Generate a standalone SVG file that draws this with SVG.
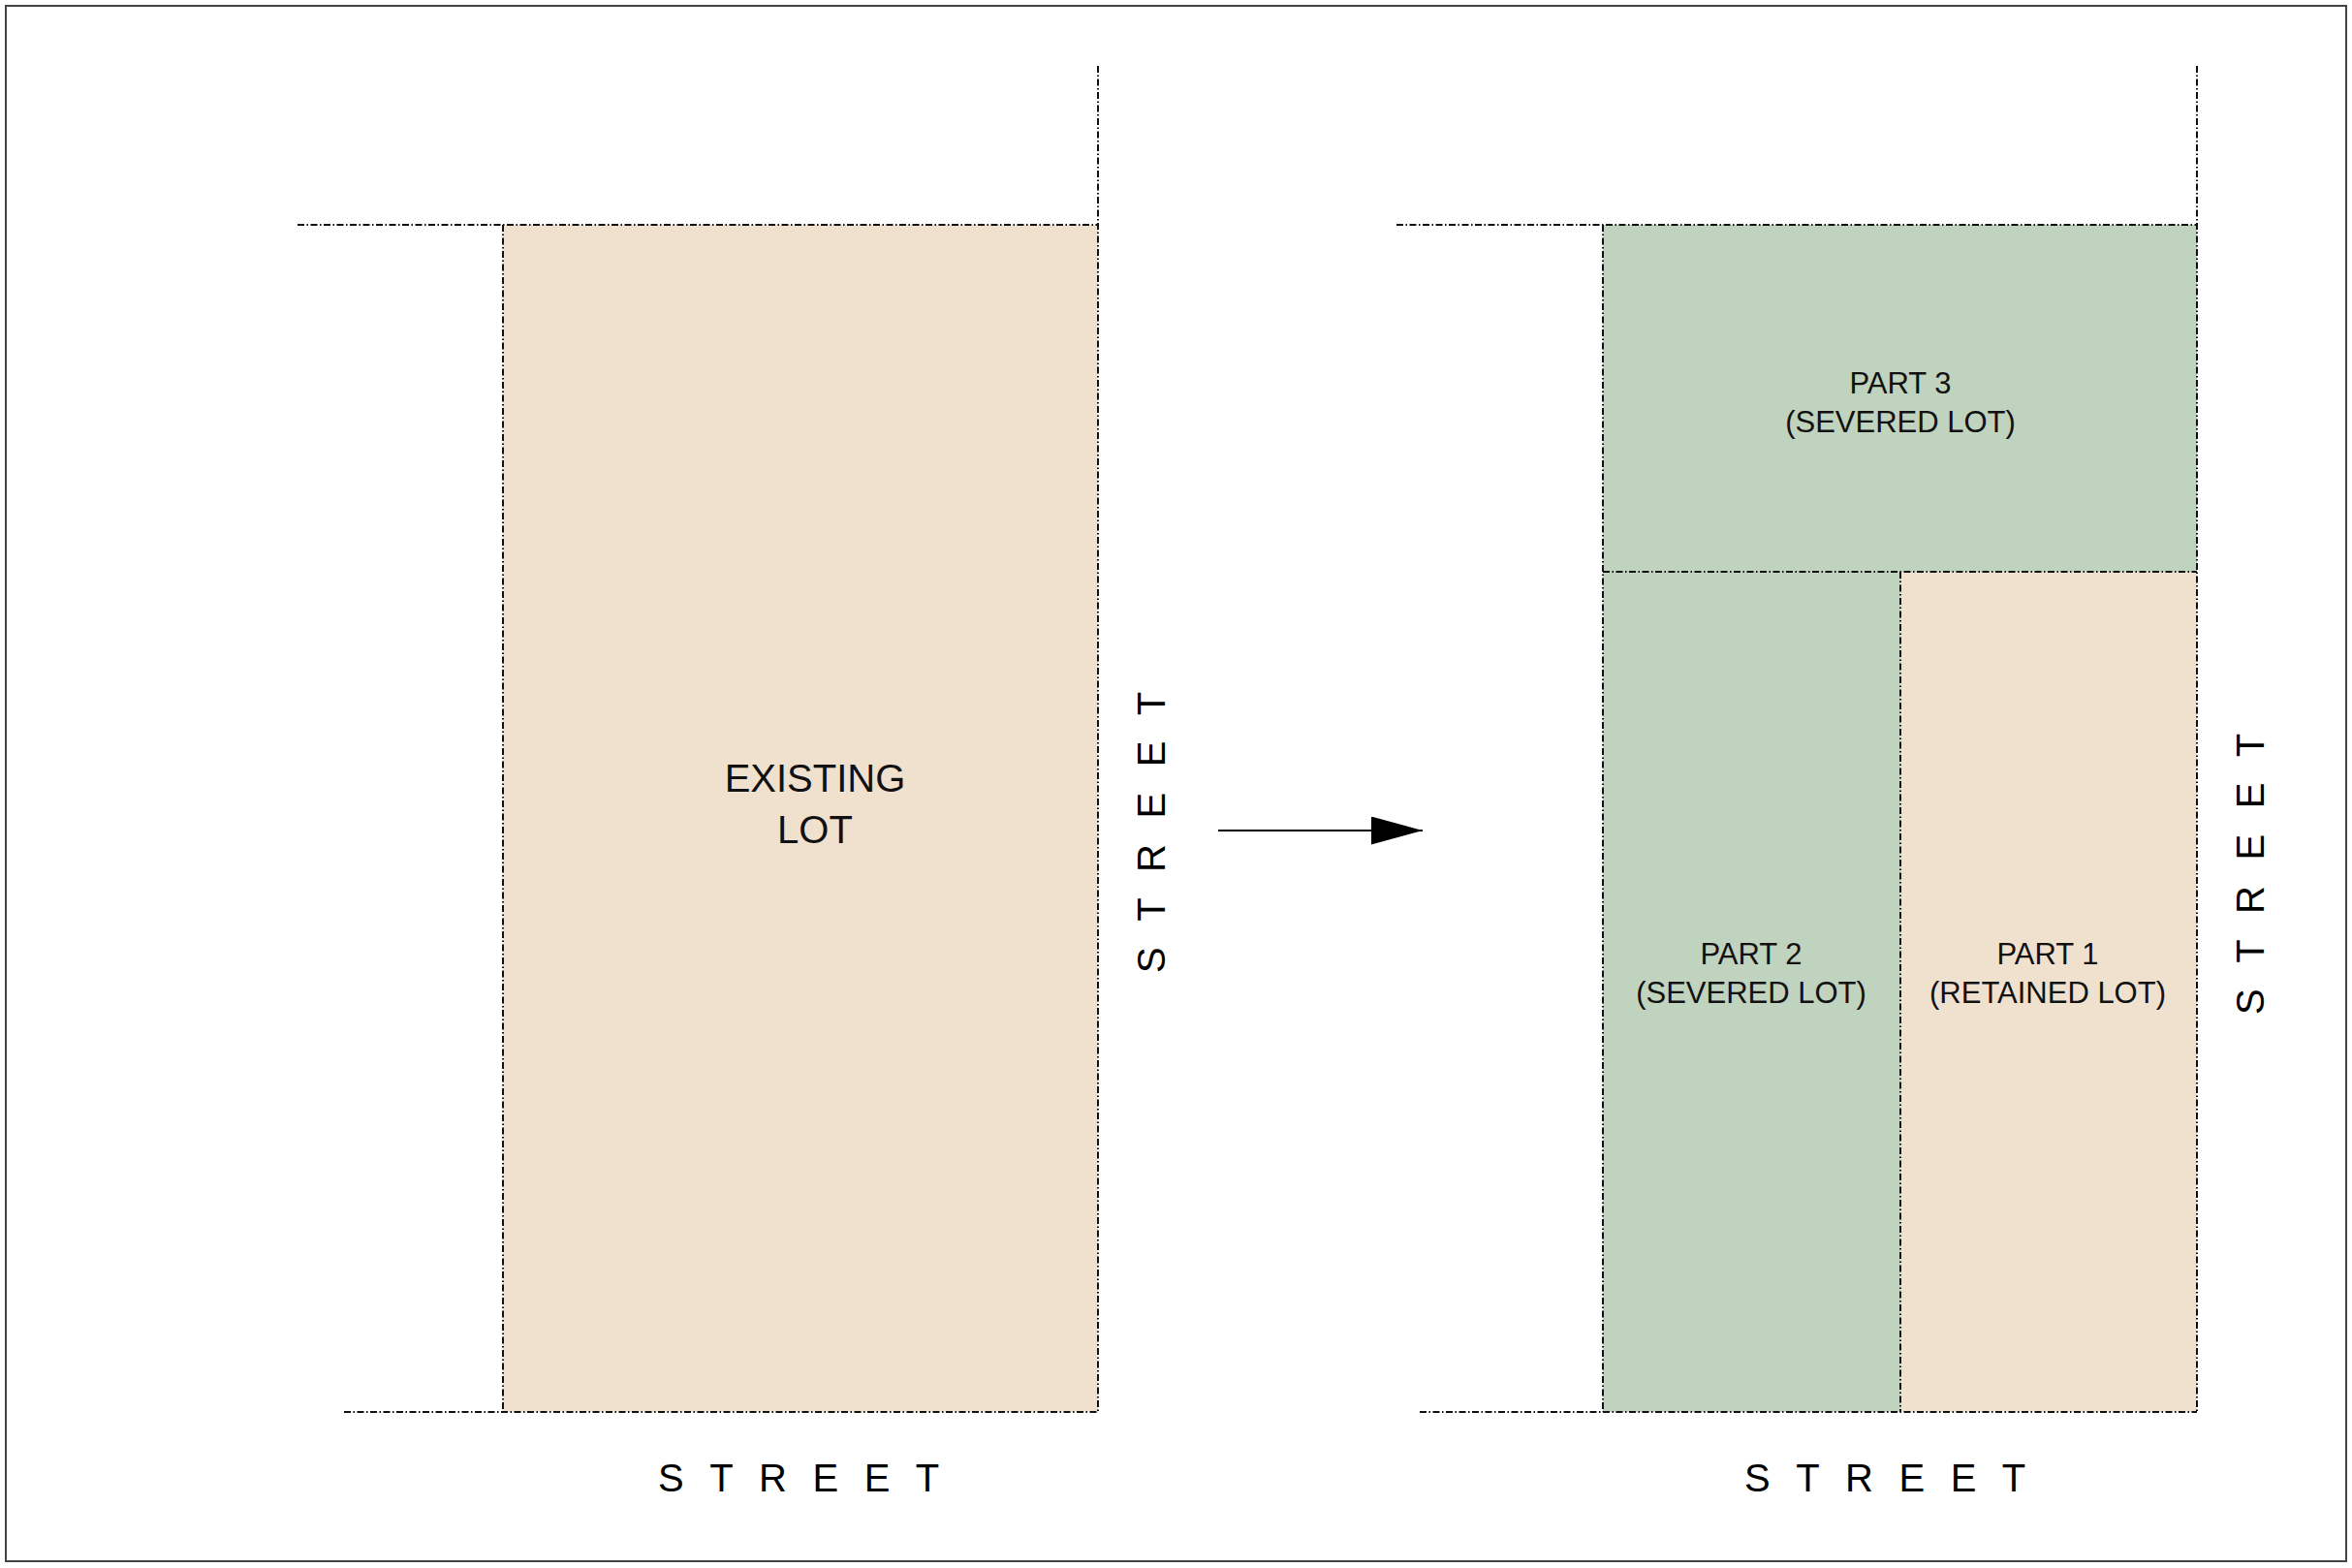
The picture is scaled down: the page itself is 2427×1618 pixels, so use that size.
<svg xmlns="http://www.w3.org/2000/svg" width="2427" height="1618" viewBox="0 0 2427 1618">
  <style>
    .bnd { stroke: #111; stroke-width: 2; stroke-dasharray: 7 2.5 1.5 2.5; fill: none; }
    .beige { fill: #F0E1CF; }
    .green { fill: #C0D3BE; }
    .lbl { font-family: "Liberation Sans", Arial, sans-serif; font-size: 31px; fill: #111; text-anchor: middle; }
    .big { font-family: "Liberation Sans", Arial, sans-serif; font-size: 40px; fill: #111; text-anchor: middle; }
    .street { font-family: "Liberation Sans", Arial, sans-serif; font-size: 40px; fill: #000; letter-spacing: 26.5px; }
  </style>
  <defs>
    <marker id="arrowhead" markerUnits="userSpaceOnUse" markerWidth="53" markerHeight="29" refX="53" refY="14.5" orient="auto">
      <path d="M0,0 L53,14.5 L0,29 Z" fill="#000"/>
    </marker>
  </defs>

  <rect x="6" y="6" width="2415" height="1605" fill="#fff" stroke="#444" stroke-width="2"/>

  <!-- Left: existing lot -->
  <g id="existing-lot">
    <rect class="beige" x="519" y="232" width="614" height="1225"/>
    <text class="big" x="841" y="817">EXISTING</text>
    <text class="big" x="841" y="870">LOT</text>
  </g>

  <!-- Right: parts -->
  <g id="part3">
    <rect class="green" x="1654" y="232" width="613" height="358"/>
    <text class="lbl" x="1961" y="406">PART 3</text>
    <text class="lbl" x="1961" y="446">(SEVERED LOT)</text>
  </g>
  <g id="part2">
    <rect class="green" x="1654" y="590" width="307" height="867"/>
    <text class="lbl" x="1807" y="995">PART 2</text>
    <text class="lbl" x="1807" y="1035">(SEVERED LOT)</text>
  </g>
  <g id="part1">
    <rect class="beige" x="1961" y="590" width="306" height="867"/>
    <text class="lbl" x="2113" y="995">PART 1</text>
    <text class="lbl" x="2113" y="1035">(RETAINED LOT)</text>
  </g>

  <!-- Property boundary lines -->
  <g id="boundaries">
    <line class="bnd" x1="307" y1="232" x2="1133" y2="232"/>
    <line class="bnd" x1="1133" y1="68" x2="1133" y2="1457"/>
    <line class="bnd" x1="355" y1="1457" x2="1133" y2="1457"/>
    <line class="bnd" x1="519" y1="232" x2="519" y2="1457"/>

    <line class="bnd" x1="1441" y1="232" x2="2267" y2="232"/>
    <line class="bnd" x1="2267" y1="68" x2="2267" y2="1457"/>
    <line class="bnd" x1="1465" y1="1457" x2="2267" y2="1457"/>
    <line class="bnd" x1="1654" y1="232" x2="1654" y2="1457"/>
    <line class="bnd" x1="1654" y1="590" x2="2267" y2="590"/>
    <line class="bnd" x1="1961" y1="590" x2="1961" y2="1457"/>
  </g>

  <!-- Street labels -->
  <g id="street-left-bottom">
    <text class="street" x="679" y="1539">STREET</text>
  </g>
  <g id="street-left-side">
    <text class="street" transform="translate(1202,1004) rotate(-90)" x="0" y="0">STREET</text>
  </g>
  <g id="street-right-bottom">
    <text class="street" x="1800" y="1539">STREET</text>
  </g>
  <g id="street-right-side">
    <text class="street" transform="translate(2336,1047) rotate(-90)" x="0" y="0">STREET</text>
  </g>

  <!-- Connectors -->
  <g id="connectors">
    <line x1="1257" y1="857" x2="1468" y2="857" stroke="#000" stroke-width="2" marker-end="url(#arrowhead)"/>
  </g>
</svg>
